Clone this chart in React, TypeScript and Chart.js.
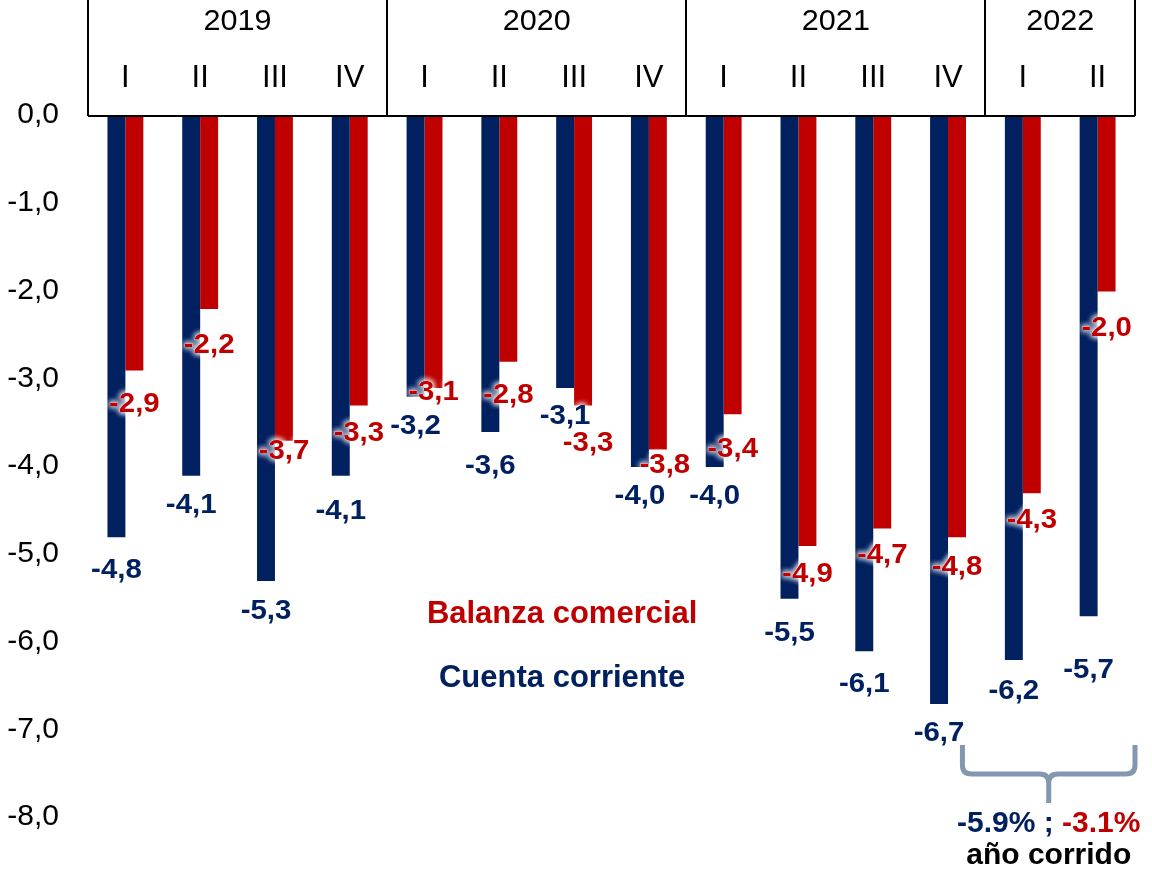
import React, { useEffect, useRef } from "react";
import { Chart, registerables } from "chart.js";

Chart.register(...registerables);

// ---------- data ----------
const quarters = ["I", "II", "III", "IV", "I", "II", "III", "IV", "I", "II", "III", "IV", "I", "II"];
const years = ["2019", "2020", "2021", "2022"];
const yearSpans = [4, 4, 4, 2];
const cuentaCorriente = [-4.8, -4.1, -5.3, -4.1, -3.2, -3.6, -3.1, -4.0, -4.0, -5.5, -6.1, -6.7, -6.2, -5.7];
const balanzaComercial = [-2.9, -2.2, -3.7, -3.3, -3.1, -2.8, -3.3, -3.8, -3.4, -4.9, -4.7, -4.8, -4.3, -2.0];
const yMin = -8;
const yMax = 0;
const ytdCuenta = "-5.9%";
const ytdBalanza = "-3.1%";
const ytdLabel = "año corrido";
const seriesNames = ["Cuenta corriente", "Balanza comercial"];

// label placement nudges (px, style only)
const blueNudgeY = [31, 27, 28, 33, 27, 32, 26, 27, 27, 32, 31, 27, 29, 52];
const redNudgeY = [32, 34, 8, 25, 2, 31, 35, 14, 33, 26, 25, 28, 25, 34];
const redNudgeX = [0, 0, 0, 0, 0, 0, 5, 7, 0, 0, 0, 0, 0, 0];

const FONT = "'Liberation Sans', Arial, sans-serif";
const BLUE = "#002060";
const RED = "#C00000";
const BRACE = "#8497B0";

const fmt = (v: number) => v.toFixed(1).replace(".", ",");

function stretchText(ctx: CanvasRenderingContext2D, text: string, x: number, y: number, sx: number) {
  ctx.save();
  ctx.translate(x, y);
  ctx.scale(sx, 1);
  ctx.fillText(text, 0, 0);
  ctx.restore();
}

function haloText(ctx: CanvasRenderingContext2D, text: string, x: number, y: number, color: string, sx: number) {
  ctx.save();
  ctx.shadowColor = "rgba(255,255,255,1)";
  ctx.shadowBlur = 6;
  ctx.fillStyle = "#ffffff";
  for (let i = 0; i < 3; i++) stretchText(ctx, text, x, y, sx);
  ctx.restore();
  ctx.fillStyle = color;
  stretchText(ctx, text, x, y, sx);
}

const decorPlugin = {
  id: "decor",
  afterDraw(chart: any) {
    const { ctx, chartArea, scales } = chart;
    const xs = scales.x;
    const n = quarters.length;
    const cw = (chartArea.right - chartArea.left) / n;
    const top = chartArea.top;
    const boundary = (i: number) => (i >= n ? chartArea.right : xs.getPixelForValue(i) - cw / 2);

    ctx.save();
    // header frame
    ctx.strokeStyle = "#000";
    ctx.lineWidth = 2;
    ctx.beginPath();
    ctx.moveTo(chartArea.left, top);
    ctx.lineTo(chartArea.right, top);
    ctx.stroke();
    const bounds = [0];
    let acc = 0;
    yearSpans.forEach((s) => {
      acc += s;
      bounds.push(acc);
    });
    bounds.forEach((b) => {
      const px = Math.round(boundary(b));
      ctx.beginPath();
      ctx.moveTo(px, 0);
      ctx.lineTo(px, top);
      ctx.stroke();
    });

    // year labels
    ctx.fillStyle = "#000";
    ctx.textAlign = "center";
    ctx.textBaseline = "alphabetic";
    ctx.font = `30px ${FONT}`;
    years.forEach((yr, i) => {
      const a = boundary(bounds[i]);
      const b = boundary(bounds[i + 1]);
      stretchText(ctx, yr, (a + b) / 2, 30, 1.02);
    });
    // quarter labels
    ctx.font = `31px ${FONT}`;
    quarters.forEach((q, i) => {
      stretchText(ctx, q, xs.getPixelForValue(i), 87, 1.0);
    });

    // data labels
    ctx.font = `bold 28px ${FONT}`;
    ctx.textAlign = "center";
    const sets = [
      { idx: 0, vals: cuentaCorriente, ny: blueNudgeY, nx: null as number[] | null, color: BLUE },
      { idx: 1, vals: balanzaComercial, ny: redNudgeY, nx: redNudgeX, color: RED },
    ];
    sets.forEach((s) => {
      const meta = chart.getDatasetMeta(s.idx);
      meta.data.forEach((el: any, i: number) => {
        const cy = el.y + s.ny[i];
        const cx = el.x + (s.nx ? s.nx[i] : 0);
        haloText(ctx, fmt(s.vals[i]), cx, cy + 10, s.color, 1.05);
      });
    });

    // in-chart legend
    ctx.font = `bold 31px ${FONT}`;
    ctx.textAlign = "center";
    const lx = xs.getPixelForValue(5.84);
    ctx.fillStyle = RED;
    stretchText(ctx, seriesNames[1], lx, 623, 1.0);
    ctx.fillStyle = BLUE;
    stretchText(ctx, seriesNames[0], lx, 687, 1.0);

    // brace
    const bl = boundary(12) - 23;
    const br = chartArea.right;
    const bm = (bl + br) / 2;
    const bt = 745;
    const bh = 774;
    const bb = 803;
    const r = 9;
    ctx.strokeStyle = BRACE;
    ctx.lineWidth = 5;
    ctx.lineJoin = "round";
    ctx.beginPath();
    ctx.moveTo(bl, bt);
    ctx.lineTo(bl, bh - r);
    ctx.quadraticCurveTo(bl, bh, bl + r, bh);
    ctx.lineTo(bm - r, bh);
    ctx.quadraticCurveTo(bm, bh, bm, bh + r);
    ctx.lineTo(bm, bb);
    ctx.moveTo(br, bt);
    ctx.lineTo(br, bh - r);
    ctx.quadraticCurveTo(br, bh, br - r, bh);
    ctx.lineTo(bm + r, bh);
    ctx.quadraticCurveTo(bm, bh, bm, bh + r);
    ctx.stroke();

    // year-to-date text
    ctx.font = `bold 30px ${FONT}`;
    ctx.textAlign = "left";
    const p1 = ytdCuenta;
    const p2 = " ; ";
    const p3 = ytdBalanza;
    const w1 = ctx.measureText(p1).width;
    const w2 = ctx.measureText(p2).width;
    const w3 = ctx.measureText(p3).width;
    let sx = bm - (w1 + w2 + w3) / 2;
    const base1 = 832;
    ctx.fillStyle = BLUE;
    ctx.fillText(p1, sx, base1);
    sx += w1;
    ctx.fillText(p2, sx, base1);
    sx += w2;
    ctx.fillStyle = RED;
    ctx.fillText(p3, sx, base1);
    ctx.textAlign = "center";
    ctx.fillStyle = "#000";
    ctx.fillText(ytdLabel, bm, 864);
    ctx.restore();
  },
};

export default function App() {
  const ref = useRef<HTMLCanvasElement | null>(null);
  useEffect(() => {
    if (!ref.current) return;
    const chart = new Chart(ref.current, {
      type: "bar",
      data: {
        labels: quarters,
        datasets: [
          {
            label: seriesNames[0],
            data: cuentaCorriente,
            backgroundColor: BLUE,
            categoryPercentage: 0.48,
            barPercentage: 1.0,
          },
          {
            label: seriesNames[1],
            data: balanzaComercial,
            backgroundColor: RED,
            categoryPercentage: 0.48,
            barPercentage: 1.0,
          },
        ],
      },
      options: {
        responsive: false,
        animation: false,
        layout: { padding: { top: 116, bottom: 54, right: 17, left: 0 } },
        plugins: {
          legend: { display: false },
          tooltip: { enabled: false },
        },
        scales: {
          x: { display: false },
          y: {
            min: yMin,
            max: yMax,
            grid: { display: false, drawTicks: false },
            border: { display: false },
            afterFit: (s: any) => {
              s.width = 88;
            },
            ticks: {
              stepSize: 1,
              padding: 29,
              labelOffset: -1,
              color: "#000",
              font: { family: FONT, size: 30 },
              callback: (v: any) => fmt(Number(v)),
            },
          },
        },
      },
      plugins: [decorPlugin],
    });
    return () => chart.destroy();
  }, []);
  return (
    <div style={{ position: "fixed", left: 0, top: 0, width: 1152, height: 872, background: "#fff" }}>
      <canvas ref={ref} width={1152} height={872} style={{ display: "block" }} />
    </div>
  );
}
